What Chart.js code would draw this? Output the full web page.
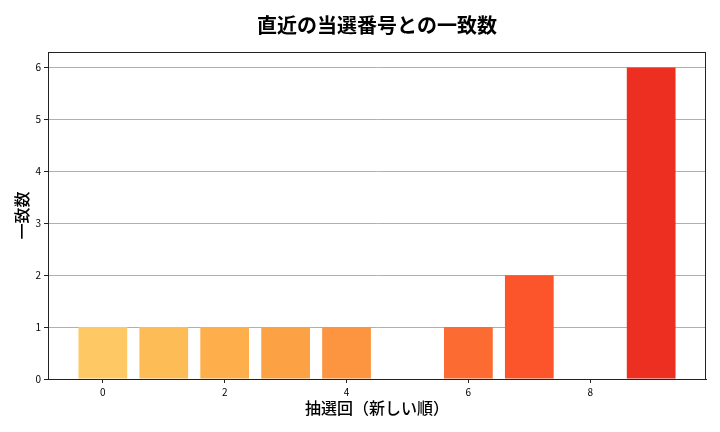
<!DOCTYPE html>
<html>
<head>
<meta charset="utf-8">
<script src="https://cdn.jsdelivr.net/npm/chart.js@4.4.1/dist/chart.umd.min.js"></script>
<style>
  html, body { margin: 0; padding: 0; background: #fff; }
  #wrap { width: 720px; height: 432px; }
</style>
</head>
<body>
<div id="wrap"><canvas id="c" width="720" height="432"></canvas></div>
<script>
const titleText = '直近の当選番号との一致数';
const xLabel = '抽選回（新しい順）';
const yLabel = '一致数';
const drawIndex = [0, 1, 2, 3, 4, 5, 6, 7, 8, 9];
const matchCounts = [1, 1, 1, 1, 1, 0, 1, 2, 0, 6];
const xTicks = [0, 2, 4, 6, 8];
const yTicks = [0, 1, 2, 3, 4, 5, 6];
const barColors = ['#fec965', '#febc56', '#feae4a', '#fda145', '#fd943f',
                   '#fd8239', '#fc6b32', '#fc552c', '#f64127', '#ed2f22'];

const FONT = '"Noto Sans CJK JP", "Noto Sans", sans-serif';

const boxPlugin = {
  id: 'box',
  afterDraw(chart) {
    const a = chart.chartArea, ctx = chart.ctx;
    ctx.save();
    ctx.strokeStyle = '#222';
    ctx.lineWidth = 1;
    ctx.strokeRect(Math.round(a.left) + 0.5, Math.round(a.top) + 0.5,
                   Math.round(a.right - a.left) - 1, Math.round(a.bottom - a.top));
    ctx.restore();
  }
};

new Chart(document.getElementById('c'), {
  type: 'bar',
  data: {
    datasets: [{
      data: drawIndex.map((x, i) => ({ x: x, y: matchCounts[i] })),
      backgroundColor: barColors,
      borderWidth: 0,
      barPercentage: 0.8,
      categoryPercentage: 1.0
    }]
  },
  options: {
    responsive: false,
    animation: false,
    devicePixelRatio: 1,
    layout: { padding: { left: 0, right: 14, top: 0, bottom: 0 } },
    plugins: {
      legend: { display: false },
      tooltip: { enabled: false },
      title: {
        display: true,
        text: titleText,
        fullSize: false,
        color: '#000',
        font: { family: FONT, size: 20, weight: 'bold', lineHeight: 1.2 },
        padding: { top: 13, bottom: 15 }
      }
    },
    scales: {
      x: {
        type: 'linear',
        min: -0.9,
        max: 9.9,
        offset: false,
        afterBuildTicks: s => { s.ticks = xTicks.map(v => ({ value: v })); },
        afterFit: s => { s.height = 53; },
        ticks: { color: '#000', font: { family: FONT, size: 10 }, padding: 3, maxRotation: 0 },
        grid: { display: true, offset: false, drawOnChartArea: false, drawTicks: true, tickLength: 4, tickColor: '#222' },
        border: { display: true, color: '#222', width: 1 },
        title: {
          display: true, text: xLabel, color: '#000',
          font: { family: FONT, size: 16, weight: '500', lineHeight: 1.2 },
          padding: { top: 0, bottom: 14 }
        }
      },
      y: {
        min: 0,
        max: 6.3,
        z: 1,
        afterBuildTicks: s => { s.ticks = yTicks.map(v => ({ value: v })); },
        afterFit: s => { s.width = 48; },
        ticks: { color: '#000', font: { family: FONT, size: 10 }, padding: 3 },
        grid: { color: '#b0b0b0', lineWidth: 1, offset: false, tickLength: 4, tickColor: '#222' },
        border: { display: true, color: '#222', width: 1 },
        title: {
          display: true, text: yLabel, color: '#000',
          font: { family: FONT, size: 16, weight: '500', lineHeight: 1.2 },
          padding: { top: 12, bottom: 0 }
        }
      }
    }
  },
  plugins: [boxPlugin]
});
</script>
</body>
</html>
